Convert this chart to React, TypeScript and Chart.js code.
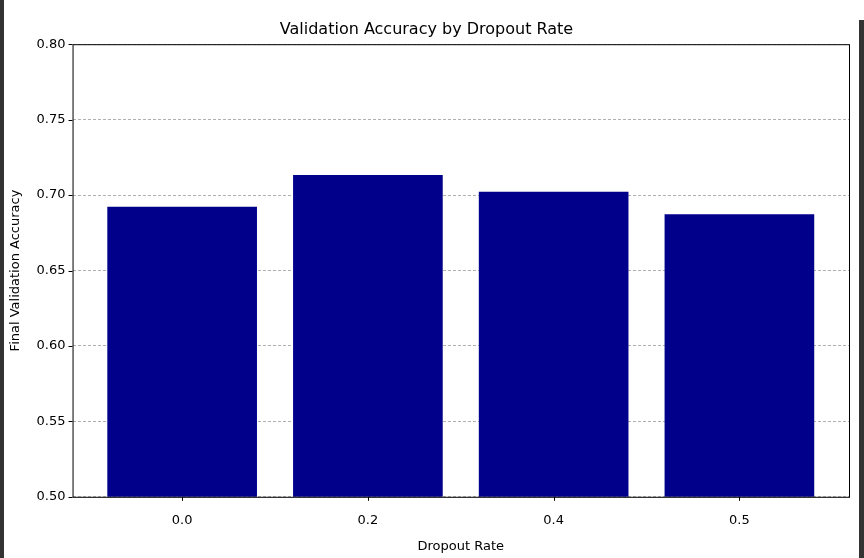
import { useEffect, useRef } from "react";
import { Chart, registerables } from "chart.js";

Chart.register(...registerables);

const dropoutLabels = ["0.0", "0.2", "0.4", "0.5"];
const accuracy = [0.692, 0.713, 0.702, 0.687];

const FONT = "'DejaVu Sans', sans-serif";

const framePlugin = {
  id: "frame",
  afterDraw(chart: Chart) {
    const { ctx, chartArea: a, scales } = chart;
    ctx.save();
    ctx.strokeStyle = "#000";
    ctx.lineWidth = 1;
    ctx.strokeRect(a.left + 0.5, a.top + 0.5, a.right - a.left, a.bottom - a.top);
    ctx.beginPath();
    const y = scales.y;
    for (const t of y.ticks) {
      const py = Math.round(y.getPixelForValue(t.value)) + 0.5;
      ctx.moveTo(a.left - 4, py);
      ctx.lineTo(a.left, py);
    }
    const x = scales.x;
    for (const t of x.ticks) {
      const px = Math.round(x.getPixelForValue(t.value)) + 0.5;
      ctx.moveTo(px, a.bottom);
      ctx.lineTo(px, a.bottom + 4);
    }
    ctx.stroke();
    ctx.restore();
  },
};

export default function App() {
  const canvasRef = useRef<HTMLCanvasElement>(null);

  useEffect(() => {
    if (!canvasRef.current) return;
    const chart = new Chart(canvasRef.current, {
      type: "bar",
      data: {
        datasets: [
          {
            data: accuracy.map((v, i) => ({ x: i, y: v })),
            backgroundColor: "#00008b",
            barThickness: 149,
          },
        ],
      },
      options: {
        responsive: false,
        animation: false,
        layout: { padding: { left: 0, right: 11, top: 0, bottom: 0 } },
        plugins: {
          legend: { display: false },
          tooltip: { enabled: false },
          title: {
            display: true,
            text: "Validation Accuracy by Dropout Rate",
            color: "#000",
            font: { family: FONT, size: 16, weight: "normal" },
            padding: { top: 20, bottom: 5 },
          },
        },
        scales: {
          x: {
            type: "linear",
            offset: false,
            min: -0.59,
            max: 3.59,
            afterBuildTicks: (s: any) => {
              s.ticks = dropoutLabels.map((_, i) => ({ value: i }));
            },
            ticks: {
              color: "#000",
              font: { family: FONT, size: 13 },
              padding: 8,
              callback: (v: any) => dropoutLabels[v] ?? "",
            },
            grid: { display: false, offset: false },
            border: { display: false },
            title: {
              display: true,
              text: "Dropout Rate",
              color: "#000",
              font: { family: FONT, size: 13 },
              padding: { top: 2, bottom: 4 },
            },
          },
          y: {
            min: 0.5,
            max: 0.8,
            ticks: {
              stepSize: 0.05,
              color: "#000",
              font: { family: FONT, size: 13 },
              padding: 7,
              callback: (v: any) => Number(v).toFixed(2),
            },
            grid: {
              color: "#b0b0b0",
              drawTicks: false,
            },
            border: { display: false, dash: [3, 2] },
            title: {
              display: true,
              text: "Final Validation Accuracy",
              color: "#000",
              font: { family: FONT, size: 13 },
              padding: { top: 4, bottom: 6 },
            },
          },
        },
      },
      plugins: [framePlugin],
    });
    return () => chart.destroy();
  }, []);

  return (
    <div style={{ position: "fixed", left: 0, top: 0, width: 864, height: 558, background: "#fff" }}>
      <div style={{ position: "absolute", left: 0, top: 0, width: 4, height: 558, background: "#333" }} />
      <div style={{ position: "absolute", left: 859, top: 20, width: 5, height: 538, background: "#333" }} />
      <canvas ref={canvasRef} width={856} height={558} style={{ position: "absolute", left: 4, top: 0 }} />
    </div>
  );
}
